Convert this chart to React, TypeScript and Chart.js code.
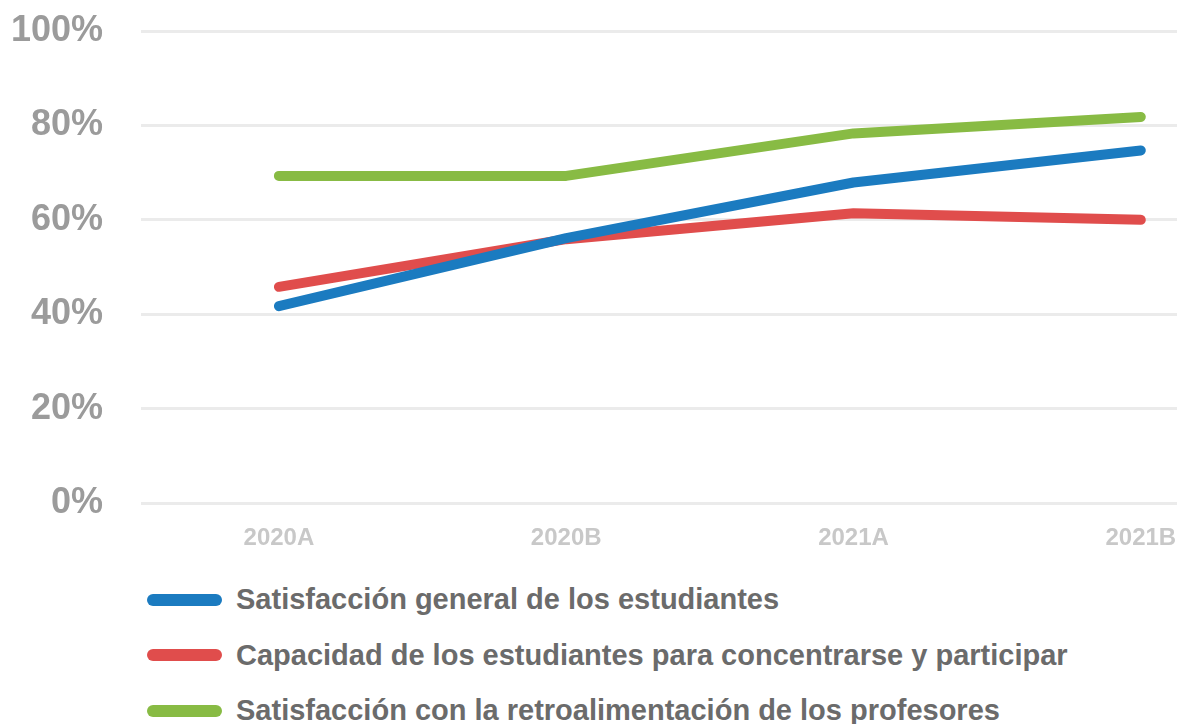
import React, { useEffect, useRef } from "react";
import { Chart, registerables } from "chart.js";

Chart.register(...registerables);

const categories = ["2020A", "2020B", "2021A", "2021B"];
const seriesNames = [
  "Satisfacción general de los estudiantes",
  "Capacidad de los estudiantes para concentrarse y participar",
  "Satisfacción con la retroalimentación de los profesores",
];
const satisfaccionGeneral = [41.7, 56.1, 67.9, 74.7];
const capacidadConcentracion = [45.8, 55.9, 61.4, 60.0];
const satisfaccionRetro = [69.3, 69.3, 78.3, 81.8];
const yTicks = [0, 20, 40, 60, 80, 100];

const colors = ["#1B7BC0", "#E04D4C", "#88BB44"];
const FONT = "'Liberation Sans', Arial, sans-serif";

export default function App() {
  const ref = useRef<HTMLCanvasElement | null>(null);

  useEffect(() => {
    document.body.style.margin = "0";
    const ctx = ref.current;
    if (!ctx) return;
    const allSeries = [satisfaccionGeneral, capacidadConcentracion, satisfaccionRetro];
    const chart = new Chart(ctx, {
      type: "line",
      data: {
        datasets: allSeries.map((vals, si) => ({
          label: seriesNames[si],
          data: vals.map((v, i) => ({ x: i, y: v })),
          borderColor: colors[si],
          backgroundColor: colors[si],
          borderWidth: 10,
          borderCapStyle: "round",
          borderJoinStyle: "round",
          pointRadius: 0,
          tension: 0,
          fill: false,
        })),
      },
      options: {
        animation: false,
        responsive: true,
        maintainAspectRatio: false,
        layout: { padding: { top: 31, left: 0, right: 0, bottom: 0 } },
        plugins: { legend: { display: false }, tooltip: { enabled: false } },
        scales: {
          x: {
            type: "linear",
            min: -0.48,
            max: 3.126,
            afterBuildTicks: (axis: any) => {
              axis.ticks = categories.map((_, i) => ({ value: i }));
            },
            afterFit: (axis: any) => {
              axis.height = 60;
              axis.paddingLeft = 0;
              axis.paddingRight = 0;
            },
            grid: { display: false, drawTicks: false },
            border: { display: false },
            ticks: {
              autoSkip: false,
              maxRotation: 0,
              padding: 21,
              color: "#c8c8c8",
              font: { family: FONT, size: 24, weight: "bold" },
              callback: (v: any) => categories[Number(v)] ?? "",
            },
          },
          y: {
            min: 0,
            max: 100,
            afterBuildTicks: (axis: any) => {
              axis.ticks = yTicks.map((v) => ({ value: v }));
            },
            afterFit: (axis: any) => {
              axis.width = 141;
              axis.paddingTop = 0;
              axis.paddingBottom = 0;
            },
            grid: { color: "#ebebeb", lineWidth: 3, drawTicks: false },
            border: { display: false },
            ticks: {
              padding: 38,
              color: "#9b9b9b",
              font: { family: FONT, size: 36, weight: "bold" },
              callback: (v: any) => v + "%",
            },
          },
        },
      },
    } as any);
    return () => chart.destroy();
  }, []);

  return (
    <div style={{ width: 1177, height: 724, position: "relative", fontFamily: FONT }}>
      <div style={{ position: "absolute", left: 0, top: 0, width: 1177, height: 563 }}>
        <canvas ref={ref} />
      </div>
      <div style={{ position: "absolute", left: 147, top: 572 }}>
        {seriesNames.map((name, i) => (
          <div
            key={name}
            style={{ display: "flex", alignItems: "center", height: 55.5 }}
          >
            <div
              style={{
                width: 75,
                height: 12,
                borderRadius: 6,
                background: colors[i],
                marginRight: 14,
              }}
            />
            <span style={{ fontSize: 29, fontWeight: "bold", color: "#6b6b6b", whiteSpace: "nowrap" }}>
              {name}
            </span>
          </div>
        ))}
      </div>
    </div>
  );
}
